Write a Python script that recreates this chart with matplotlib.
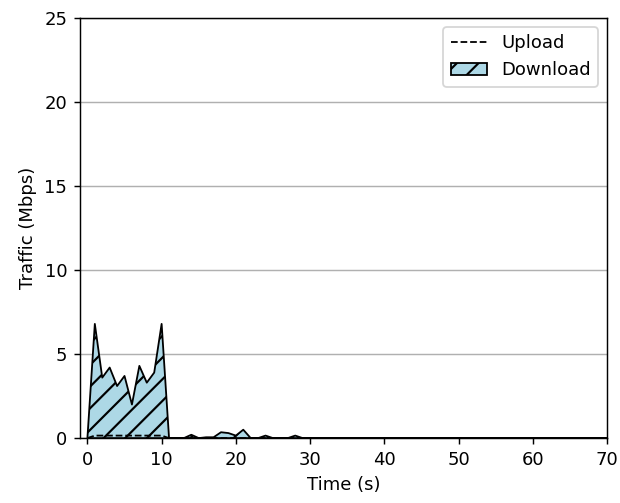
import numpy as np
import matplotlib.pyplot as plt

# traffic samples, one per second
time_s = list(range(0, 71))
download = [0.0, 6.8, 3.6, 4.2, 3.1, 3.7, 2.0, 4.3, 3.3, 3.9, 6.8, 0.0,
            0.0, 0.0, 0.2, 0.0, 0.05, 0.05, 0.35, 0.3, 0.15, 0.5, 0.0, 0.0,
            0.15, 0.0, 0.0, 0.0, 0.15, 0.0] + [0.0] * 41
upload = [0.0, 0.15, 0.15, 0.15, 0.15, 0.15, 0.15, 0.15, 0.15, 0.15, 0.15, 0.0] + [0.0] * 59

DPI = 130
plt.rcParams["hatch.linewidth"] = 1.2

fig, ax = plt.subplots(figsize=(620 / DPI, 503 / DPI), dpi=DPI)
fig.subplots_adjust(left=0.129, right=0.979, top=0.964, bottom=0.129)

ax.plot(time_s, upload, color="black", linestyle="--", linewidth=1.0, label="Upload")
ax.fill_between(time_s, download, 0, facecolor="lightblue", edgecolor="black",
                hatch="//", label="Download")

ax.set_xlim(-1, 70)
ax.set_ylim(0, 25)
ax.set_yticks([0, 5, 10, 15, 20, 25])
ax.grid(axis="y", color="#b0b0b0")
ax.set_axisbelow(True)
ax.set_xlabel("Time (s)")
ax.set_ylabel("Traffic (Mbps)")
ax.legend(loc="upper right")

fig.savefig("out.png", dpi=DPI)
